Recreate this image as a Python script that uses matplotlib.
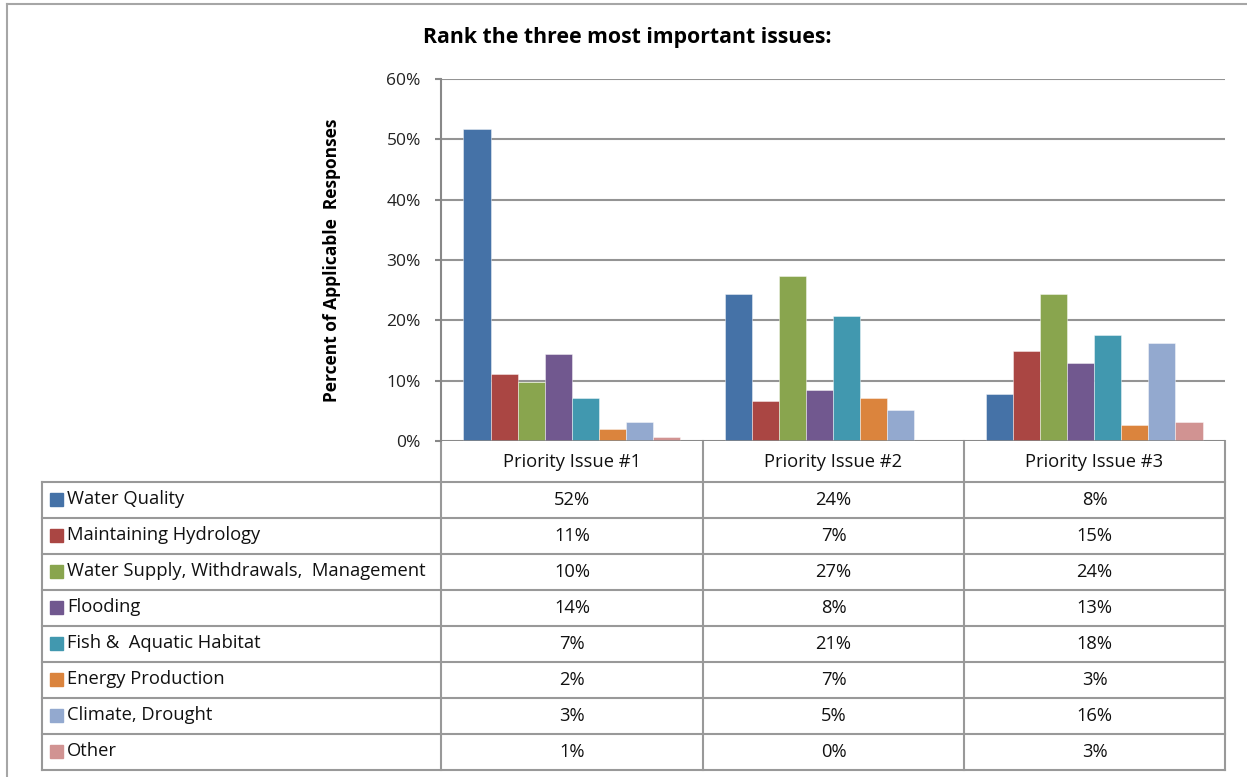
import matplotlib
matplotlib.use("Agg")
import matplotlib.pyplot as plt
from matplotlib.patches import Rectangle
import numpy as np

plt.rcParams['font.family'] = ['Open Sans', 'DejaVu Sans']

categories = ["Priority Issue #1", "Priority Issue #2", "Priority Issue #3"]
series_names = ["Water Quality", "Maintaining Hydrology",
                "Water Supply, Withdrawals,  Management", "Flooding",
                "Fish &  Aquatic Habitat", "Energy Production",
                "Climate, Drought", "Other"]
water_quality = [51.7, 24.4, 7.8]
maintaining_hydrology = [11.1, 6.6, 14.9]
water_supply = [9.8, 27.4, 24.3]
flooding = [14.4, 8.4, 12.9]
fish_habitat = [7.1, 20.8, 17.6]
energy = [2.0, 7.1, 2.6]
climate = [3.1, 5.2, 16.2]
other = [0.7, 0.0, 3.1]
series_values = [water_quality, maintaining_hydrology, water_supply, flooding,
                 fish_habitat, energy, climate, other]
colors = ["#4572A7", "#AA4643", "#89A54E", "#71588F", "#4198AF",
          "#DB843D", "#93A9CF", "#D19392"]
yticks = [0, 10, 20, 30, 40, 50, 60]

W, H = 1247, 777
fig = plt.figure(figsize=(W / 100, H / 100), dpi=100)

ov = fig.add_axes([0, 0, 1, 1])
ov.set_xlim(0, W)
ov.set_ylim(H, 0)
ov.axis('off')

ax_l, ax_r, ax_t, ax_b = 441, 1225, 79, 441
ax = fig.add_axes([ax_l / W, (H - ax_b) / H, (ax_r - ax_l) / W, (ax_b - ax_t) / H])
ax.set_zorder(2)
ax.patch.set_alpha(0)

n = len(series_values)
bw = 0.1035
x = np.arange(len(categories))
for i, (vals, c) in enumerate(zip(series_values, colors)):
    offs = (i - (n - 1) / 2) * bw
    ax.bar(x + offs, vals, width=bw, color=c, edgecolor=(1, 1, 1, 0.5),
           linewidth=0.6, zorder=3)

ax.set_xlim(-0.5, len(categories) - 0.5)
ax.set_ylim(0, 60)
ax.set_yticks(yticks)
ax.set_yticklabels([f"{t}%" for t in yticks], fontsize=12.5, color='#222222')
ax.set_xticks([])
ax.grid(axis='y', color='#949494', linewidth=1.5, zorder=0)
for s in ['top', 'right', 'bottom']:
    ax.spines[s].set_visible(False)
ax.spines['left'].set_color('#888888')
ax.spines['left'].set_linewidth(1.5)
ax.tick_params(axis='y', length=4.5, color='#888888', width=1.5, pad=10)
ax.axhline(0, color='#888888', linewidth=1.8, zorder=4)
ax.set_ylabel("Percent of Applicable  Responses", fontsize=12.5,
              fontweight='bold')
ax.yaxis.set_label_coords((341 - ax_l) / (ax_r - ax_l), 0.5)

fig.text(627 / W, 1 - 38 / H, "Rank the three most important issues:",
         fontsize=15.3, fontweight='bold', ha='center', va='center')

lc = '#A6A6A6'
ov.plot([7, W], [4, 4], color=lc, lw=1.5)
ov.plot([7, 7], [4, H], color=lc, lw=1.5)

tc = '#999999'
col_x = [441, 703, 964, 1225]
row_y = [482, 518, 554, 590, 626, 662, 698, 734, 770]
left_x = 42
for cx in col_x:
    ov.plot([cx, cx], [441, 770], color=tc, lw=1.5)
ov.plot([left_x, left_x], [482, 770], color=tc, lw=1.5)
for ry in row_y:
    ov.plot([left_x, 1225], [ry, ry], color=tc, lw=1.5)

fs = 13.2
for j, cat in enumerate(categories):
    ov.text((col_x[j] + col_x[j + 1]) / 2, 462, cat, fontsize=fs,
            ha='center', va='center', color='#111111')

for i, (name, vals, c) in enumerate(zip(series_names, series_values, colors)):
    yc = (row_y[i] + row_y[i + 1]) / 2
    ov.add_patch(Rectangle((50, yc - 7), 13, 13, color=c))
    ov.text(67, yc - 1, name, fontsize=fs, ha='left', va='center', color='#111111')
    for j, v in enumerate(vals):
        ov.text((col_x[j] + col_x[j + 1]) / 2, yc, f"{int(round(v))}%",
                fontsize=fs, ha='center', va='center', color='#111111')

fig.savefig("out.png", dpi=100, facecolor='white')
